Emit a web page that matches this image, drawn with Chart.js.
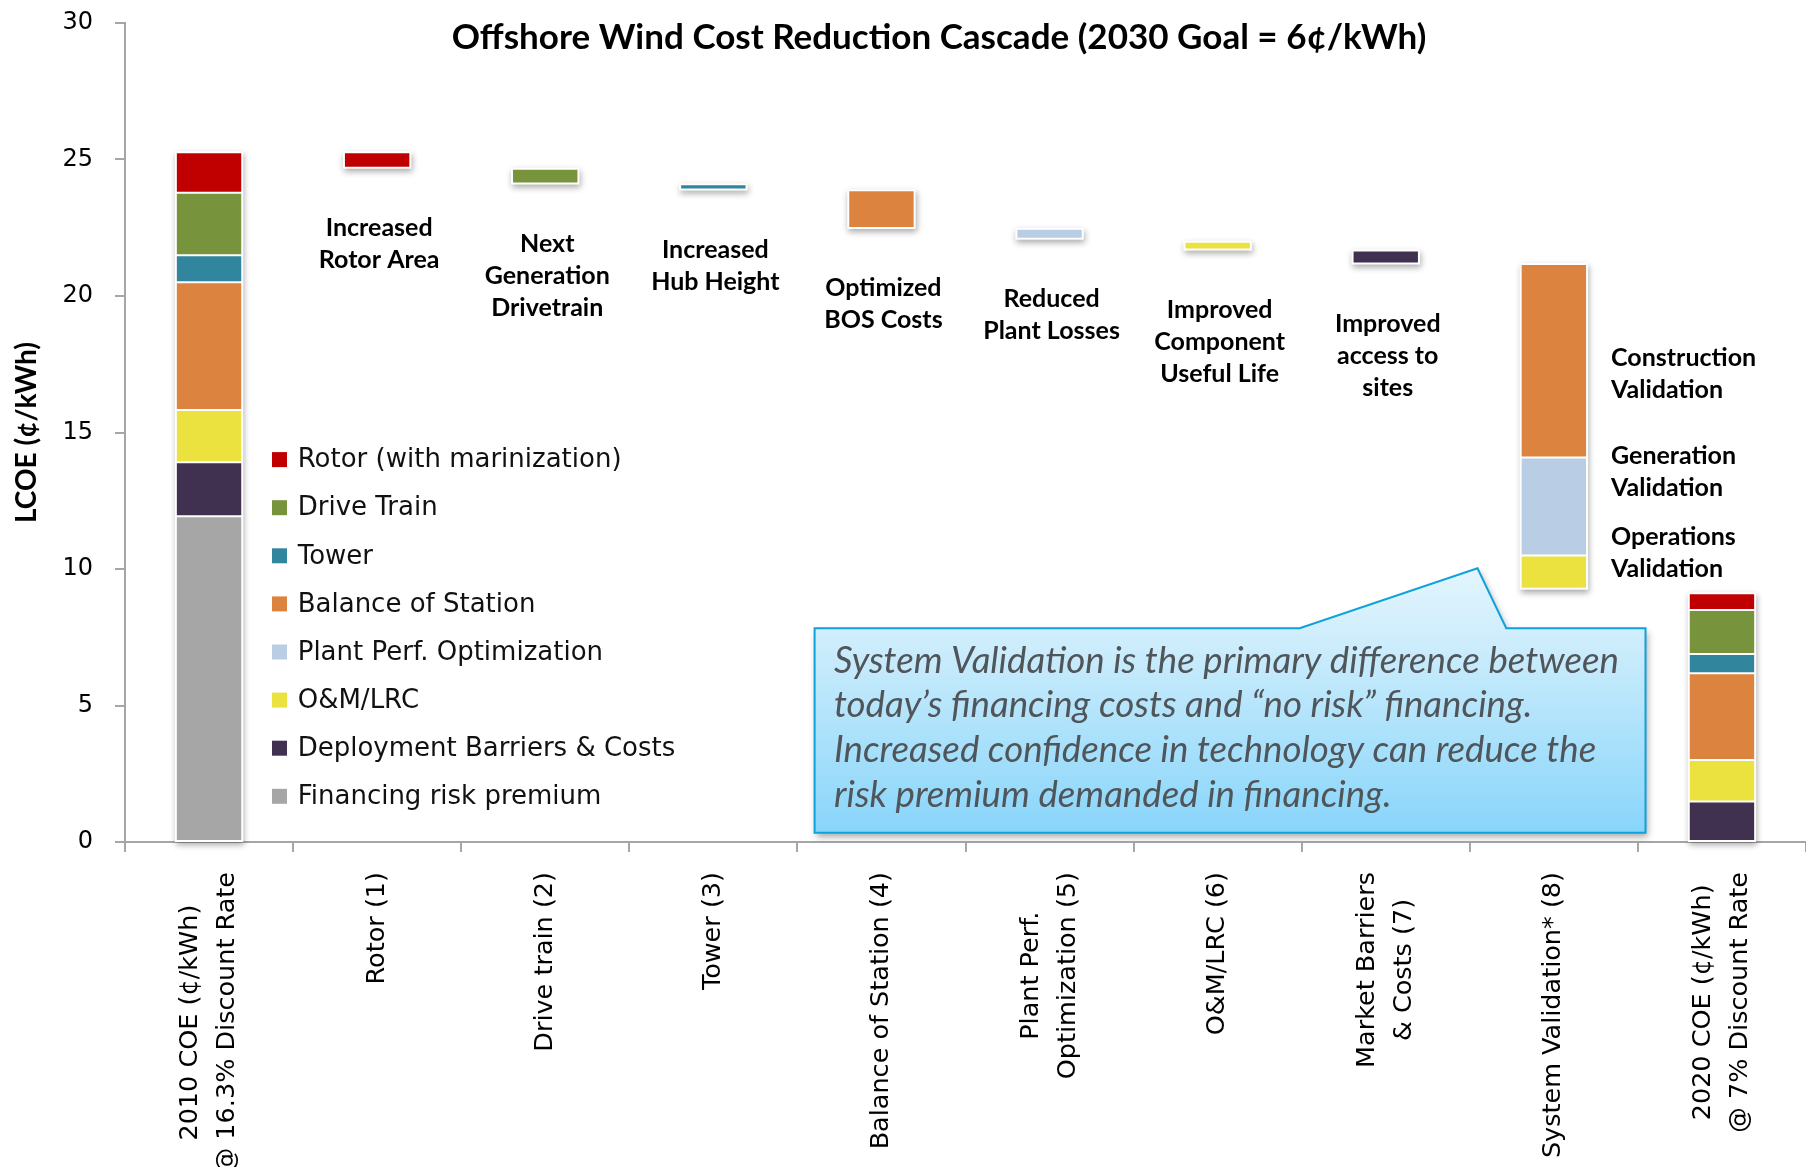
<!DOCTYPE html>
<html><head><meta charset="utf-8">
<script src="https://cdn.jsdelivr.net/npm/chart.js@4/dist/chart.umd.min.js"></script>
<style>html,body{margin:0;padding:0;background:#fff;}canvas{display:block;}</style>
</head><body>
<canvas id="c" width="1806" height="1167"></canvas>
<script>
// ---------------- data ----------------
const chartTitle = 'Offshore Wind Cost Reduction Cascade (2030 Goal = 6¢/kWh)';
const yAxisTitle = 'LCOE (¢/kWh)';
const categories = [
  ['2010 COE (¢/kWh)', '@ 16.3% Discount Rate'],
  'Rotor (1)',
  'Drive train (2)',
  'Tower (3)',
  'Balance of Station (4)',
  ['Plant Perf.', 'Optimization (5)'],
  'O&M/LRC (6)',
  ['Market Barriers', '& Costs (7)'],
  'System Validation* (8)',
  ['2020 COE (¢/kWh)', '@ 7% Discount Rate']
];
const components = ['Rotor (with marinization)', 'Drive Train', 'Tower', 'Balance of Station',
  'Plant Perf. Optimization', 'O&M/LRC', 'Deployment Barriers & Costs', 'Financing risk premium'];
const coe2010 = [1.49, 2.29, 0.99, 4.68, 0, 1.91, 1.98, 11.93];
const coe2020 = [0.61, 1.61, 0.71, 3.18, 0, 1.52, 1.48, 0];
const stepComponent = [0, 1, 2, 3, 4, 5, 6];
const stepHigh = [25.27, 24.66, 24.09, 23.87, 22.46, 21.99, 21.67];
const stepLow  = [24.70, 24.12, 23.90, 22.49, 22.10, 21.70, 21.19];
const stepNotes = [
  ['Increased', 'Rotor Area'], ['Next', 'Generation', 'Drivetrain'], ['Increased', 'Hub Height'],
  ['Optimized', 'BOS Costs'], ['Reduced', 'Plant Losses'], ['Improved', 'Component', 'Useful Life'],
  ['Improved', 'access to', 'sites']
];
const validationComponent = [3, 4, 5];
const validationHigh = [21.17, 14.08, 10.49];
const validationLow  = [14.08, 10.49, 9.28];
const validationNotes = [['Construction', 'Validation'], ['Generation', 'Validation'], ['Operations', 'Validation']];
const validationNoteAt = [17.72, 14.15, 11.18];
const calloutLines = [
  'System Validation is the primary difference between',
  'today’s financing costs and “no risk” financing.',
  'Increased confidence in technology can reduce the',
  'risk premium demanded in financing.'
];
const yTicks = { min: 0, max: 30, step: 5 };

// ---------------- styles ----------------
const componentColors = ['#c00000', '#77933c', '#31859c', '#dc843f', '#b9cde5', '#ebe13f', '#403151', '#a6a6a6'];
const axisGray = '#a6a6a6';
const xTickFont = { family: 'DejaVu Sans', size: 25.5, lineHeight: 1.45 };
const yTickFont = { family: 'DejaVu Sans', size: 24, lineHeight: 1.2 };

function cumulative(values) {
  const out = new Array(values.length).fill(null);
  let base = 0;
  for (let k = values.length - 1; k >= 0; k--) {
    if (values[k] > 0) { out[k] = [base, base + values[k]]; base += values[k]; }
  }
  return out;
}
const stack2010 = cumulative(coe2010);
const stack2020 = cumulative(coe2020);
const lastIdx = categories.length - 1;
const valIdx = 8;

const datasets = components.map((name, k) => {
  const data = categories.map((_, i) => {
    if (i === 0) return stack2010[k];
    if (i === lastIdx) return stack2020[k];
    if (i >= 1 && i <= stepComponent.length) return stepComponent[i - 1] === k ? [stepLow[i - 1], stepHigh[i - 1]] : null;
    if (i === valIdx) { const j = validationComponent.indexOf(k); return j >= 0 ? [validationLow[j], validationHigh[j]] : null; }
    return null;
  });
  return {
    label: name, data, backgroundColor: componentColors[k], borderColor: '#ffffff',
    borderWidth: 1, borderSkipped: false, grouped: false, barPercentage: 0.395, categoryPercentage: 1
  };
}).reverse();

// ---------------- plugins ----------------
const shadowPlugin = {
  id: 'barShadows',
  beforeDatasetsDraw(chart) {
    const ctx = chart.ctx;
    const metas = chart.getSortedVisibleDatasetMetas();
    ctx.save();
    ctx.shadowColor = 'rgba(0,0,0,0.33)';
    ctx.shadowBlur = 6; ctx.shadowOffsetX = 1; ctx.shadowOffsetY = 3;
    ctx.fillStyle = '#ffffff';
    categories.forEach((_, i) => {
      let x0 = Infinity, x1 = -Infinity, y0 = Infinity, y1 = -Infinity;
      metas.forEach(m => {
        if (chart.data.datasets[m.index].data[i] == null) return;
        const el = m.data[i];
        x0 = Math.min(x0, el.x - el.width / 2); x1 = Math.max(x1, el.x + el.width / 2);
        y0 = Math.min(y0, el.y, el.base); y1 = Math.max(y1, el.y, el.base);
      });
      if (x0 < x1) ctx.fillRect(x0 - 1, y0 - 1, x1 - x0 + 2, y1 - y0 + 2);
    });
    ctx.restore();
  }
};

// centre multi-line rotated category labels as a block (lines centred on each other)
const centerLabelsPlugin = {
  id: 'centerLabels',
  beforeDraw(chart) {
    const xs = chart.scales.x, ctx = chart.ctx;
    const items = xs.getLabelItems();
    items.forEach(item => {
      if (item._centered || !Array.isArray(item.label) || item.label.length < 2) return;
      item._centered = true;
      ctx.save();
      ctx.font = item.font.string;
      const maxW = Math.max(...item.label.map(t => ctx.measureText(t).width));
      ctx.restore();
      item.options.textAlign = 'center';
      item.options.translation = [item.options.translation[0], item.options.translation[1] + maxW / 2];
      item.textOffset -= (item.label.length - 1) * item.font.lineHeight / 2;
    });
  }
};

function fitFont(ctx, style, text, target) {
  ctx.font = style.replace('{s}', '40px');
  const w = ctx.measureText(text).width;
  return style.replace('{s}', (40 * target / w).toFixed(2) + 'px');
}

const annotationPlugin = {
  id: 'annotations',
  afterDraw(chart) {
    const ctx = chart.ctx, ca = chart.chartArea;
    const xs = chart.scales.x, ys = chart.scales.y;
    ctx.save();
    // title
    ctx.fillStyle = '#000';
    ctx.textAlign = 'center'; ctx.textBaseline = 'middle';
    ctx.font = fitFont(ctx, 'bold {s} Lato', chartTitle, 975);
    ctx.fillText(chartTitle, ca.left + 814, ca.top + 15);

    // step notes
    ctx.font = 'bold 25px Lato';
    stepNotes.forEach((lines, i) => {
      const x = xs.getPixelForValue(i + 1) + 2;
      const y = ys.getPixelForValue(stepLow[i]) + 60;
      lines.forEach((t, l) => ctx.fillText(t, x, y + l * 32));
    });

    // validation notes
    const valMeta = chart.getDatasetMeta(datasets.length - 1 - validationComponent[0]);
    const vEl = valMeta.data[valIdx];
    ctx.textAlign = 'left';
    validationNotes.forEach((lines, i) => {
      const x = vEl.x + vEl.width / 2 + 24;
      const y = ys.getPixelForValue(validationNoteAt[i]);
      lines.forEach((t, l) => ctx.fillText(t, x, y + l * 32));
    });

    // legend
    ctx.font = "26px 'DejaVu Sans'";
    components.forEach((name, r) => {
      const cy = ca.top + 436.6 + r * 48.1;
      const sx = ca.left + 147;
      ctx.fillStyle = componentColors[r];
      ctx.fillRect(sx, cy - 7.5, 15, 15);
      ctx.fillStyle = '#111';
      ctx.fillText(name, sx + 25.7, cy + 1);
    });

    // callout
    const L = ca.left + 689.6, R = ca.left + 1520.5, T = ca.top + 605.3, B = ca.top + 809.7;
    const p1 = ca.left + 1174.7, tipX = ca.left + 1352.5, tipY = ca.top + 545.3, p2 = ca.left + 1381.2;
    const path = () => {
      ctx.beginPath();
      ctx.moveTo(L, T); ctx.lineTo(p1, T); ctx.lineTo(tipX, tipY); ctx.lineTo(p2, T);
      ctx.lineTo(R, T); ctx.lineTo(R, B); ctx.lineTo(L, B); ctx.closePath();
    };
    const grad = ctx.createLinearGradient(0, tipY, 0, B);
    grad.addColorStop(0, '#e3f5fd');
    grad.addColorStop(0.25, '#d0eefc');
    grad.addColorStop(1, '#88d5fa');
    ctx.save();
    ctx.shadowColor = 'rgba(0,0,0,0.35)'; ctx.shadowBlur = 7; ctx.shadowOffsetX = 2; ctx.shadowOffsetY = 4;
    path(); ctx.fillStyle = grad; ctx.fill();
    ctx.restore();
    path(); ctx.strokeStyle = '#0ea2dd'; ctx.lineWidth = 2; ctx.lineJoin = 'miter'; ctx.stroke();

    ctx.fillStyle = '#50555a';
    ctx.textAlign = 'left'; ctx.textBaseline = 'alphabetic';
    ctx.font = fitFont(ctx, 'italic {s} Lato', calloutLines[0], 785);
    calloutLines.forEach((t, l) => ctx.fillText(t, L + 19.4, T + 44.4 + l * 44.7));
    ctx.restore();
  }
};

// ---------------- chart ----------------
new Chart(document.getElementById('c').getContext('2d'), {
  type: 'bar',
  data: { labels: categories, datasets },
  plugins: [shadowPlugin, centerLabelsPlugin, annotationPlugin],
  options: {
    responsive: false,
    animation: false,
    layout: { padding: { top: 23, right: 0, bottom: 0, left: 0 } },
    plugins: { legend: { display: false }, tooltip: { enabled: false }, title: { display: false } },
    scales: {
      x: {
        offset: true,
        grid: { display: true, offset: true, drawOnChartArea: false, drawTicks: true, tickLength: 10, color: axisGray, lineWidth: 2 },
        border: { display: true, color: axisGray, width: 2 },
        ticks: { autoSkip: false, minRotation: 90, maxRotation: 90, padding: 20, color: '#000', font: xTickFont },
        afterFit(s) { s.height = 325; s.paddingLeft = 0; s.paddingRight = 0; }
      },
      y: {
        min: yTicks.min, max: yTicks.max,
        grid: { display: true, drawOnChartArea: false, drawTicks: true, tickLength: 10, color: axisGray, lineWidth: 2 },
        border: { display: true, color: axisGray, width: 2 },
        ticks: { stepSize: yTicks.step, padding: 22, color: '#000', font: yTickFont },
        title: { display: true, text: yAxisTitle, color: '#000', font: { family: 'Lato', weight: 'bold', size: 28, lineHeight: 1.2 }, padding: { top: 10, bottom: 0 } },
        afterFit(s) { s.width = 125; s.paddingTop = 0; s.paddingBottom = 0; }
      }
    }
  }
});
</script>
</body></html>
